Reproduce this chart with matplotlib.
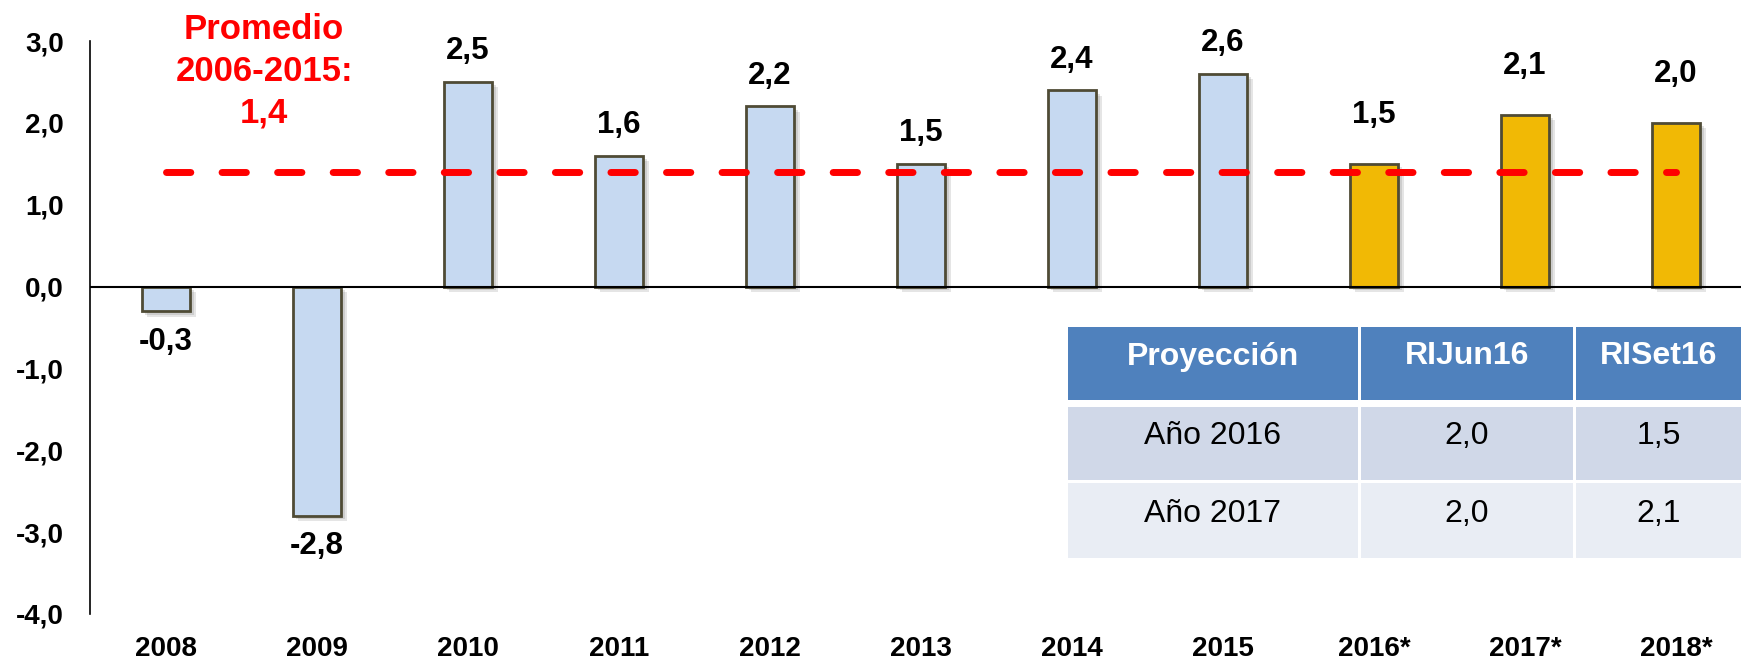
import numpy as np
import matplotlib
matplotlib.use("Agg")
import matplotlib.pyplot as plt
import matplotlib.patheffects as pe
from matplotlib.patches import Rectangle
from matplotlib.ticker import FuncFormatter

plt.rcParams['font.family'] = ['Liberation Sans', 'DejaVu Sans']

# datos
anios = ['2008', '2009', '2010', '2011', '2012', '2013', '2014', '2015',
         '2016*', '2017*', '2018*']
crecimiento = [-0.3, -2.8, 2.5, 1.6, 2.2, 1.5, 2.4, 2.6, 1.5, 2.1, 2.0]
proyectado = [False] * 8 + [True] * 3
promedio = 1.4
promedio_txt = 'Promedio\n2006-2015:\n1,4'

tabla_cols = ['Proyección', 'RIJun16', 'RISet16']
tabla_filas = ['Año 2016', 'Año 2017']
ri_jun16 = [2.0, 2.0]
ri_set16 = [1.5, 2.1]

W, H = 1741, 665
fig = plt.figure(figsize=(W / 100, H / 100), dpi=100)
ax = fig.add_axes([90 / W, 1 - 614 / H, 1 - 90 / W, (614 - 41) / H])

def coma(v):
    return f'{v:.1f}'.replace('.', ',')

x = np.arange(len(anios))
colores = ['#F1B905' if p else '#C6D9F1' for p in proyectado]
barras = ax.bar(x, crecimiento, width=0.32, color=colores, edgecolor='#4F4B35',
                linewidth=2, zorder=3)
for b in barras:
    b.set_path_effects([pe.SimplePatchShadow(offset=(4, -4), shadow_rgbFace='#707070', alpha=0.18),
                        pe.SimplePatchShadow(offset=(2.5, -2.5), shadow_rgbFace='#707070', alpha=0.2),
                        pe.Normal()])

for xi, v, p in zip(x, crecimiento, proyectado):
    off = 35 if p else 22
    ax.annotate(coma(v), (xi, v), xytext=(0, off if v >= 0 else -off),
                textcoords='offset points', ha='center', va='center',
                fontsize=22.5, fontweight='bold', color='black', zorder=5)

ax.axhline(0, color='black', lw=1.5, zorder=4)

linea, = ax.plot([x[0], x[-1]], [promedio, promedio], color='#FF0000', lw=5,
                 solid_capstyle='round', dash_capstyle='round', zorder=6)
linea.set_dashes((3.5, 4.5))

ax.text(0.65, 2.63, promedio_txt, ha='center', va='center', multialignment='center',
        fontsize=25, fontweight='bold', color='#FF0000', linespacing=1.32)

ax.set_xlim(-0.503, 10.43)
ax.set_ylim(-4, 3)
ax.set_yticks(np.arange(-4, 3.01, 1))
ax.yaxis.set_major_formatter(FuncFormatter(lambda v, _: coma(v)))
ax.set_xticks(x)
ax.set_xticklabels(anios)
ax.tick_params(axis='y', length=0, pad=19, labelsize=20)
ax.tick_params(axis='x', length=0, pad=16, labelsize=20)
for lab in ax.get_xticklabels() + ax.get_yticklabels():
    lab.set_fontweight('bold')
for s in ['top', 'right', 'bottom']:
    ax.spines[s].set_visible(False)
ax.spines['left'].set_linewidth(1.2)

# tabla de proyecciones (capa en pixeles)
ov = fig.add_axes([0, 0, 1, 1], zorder=10)
ov.set_xlim(0, W)
ov.set_ylim(H, 0)
ov.axis('off')
ov.patch.set_alpha(0)

col_x = [(1068, 1358), (1361, 1573), (1576, 1790)]
fila_y = [(327, 400), (407, 480), (483, 558)]
fondos = ['#4F81BD', '#D0D8E8', '#E9EDF4']

celdas = [tabla_cols] + [[f, coma(a), coma(b)] for f, a, b in zip(tabla_filas, ri_jun16, ri_set16)]
for r, ((y0, y1), fila) in enumerate(zip(fila_y, celdas)):
    for (x0, x1), txt in zip(col_x, fila):
        ov.add_patch(Rectangle((x0, y0), x1 - x0, y1 - y0, facecolor=fondos[r],
                               edgecolor='none', clip_on=True))
        xc = (x0 + min(x1, W)) / 2
        ov.text(xc, (y0 + y1) / 2 - 7, txt, ha='center', va='center', fontsize=23,
                fontweight='bold' if r == 0 else 'normal',
                color='white' if r == 0 else 'black')

fig.savefig('out.png', dpi=100)
